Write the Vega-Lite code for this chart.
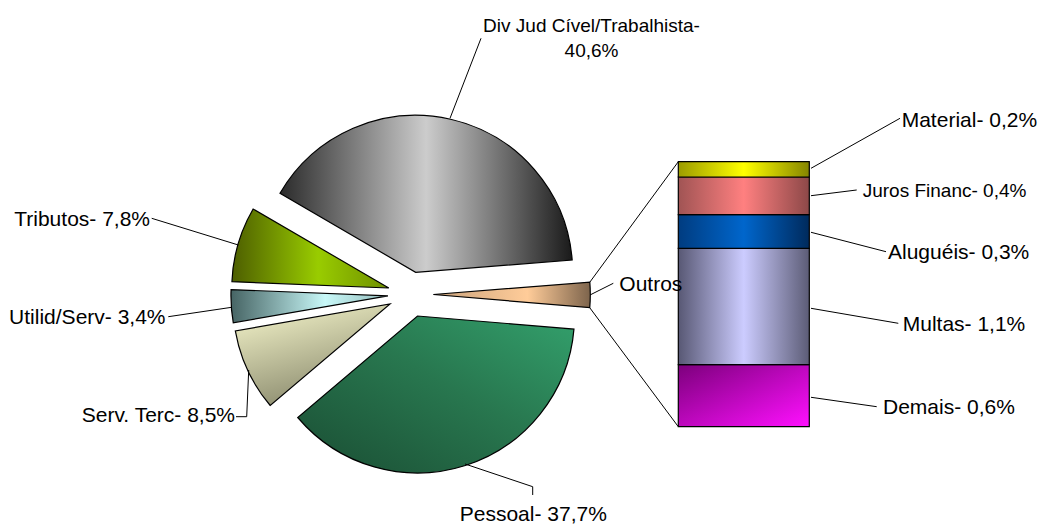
{
  "$schema": "https://vega.github.io/schema/vega-lite/v6.json",
  "width": 1039,
  "height": 524,
  "autosize": {"type": "none"},
  "padding": 0,
  "background": "white",
  "config": {"view": {"stroke": null}, "axis": {"disable": true}, "text": {"font": "Liberation Sans"}},
  "datasets": {
    "despesas": [
      {"cat": "Outros", "ord": 1, "value": 2.6, "label": "Outros"},
      {"cat": "Pessoal", "ord": 2, "value": 37.7, "label": "Pessoal- 37,7%"},
      {"cat": "Serv. Terc", "ord": 3, "value": 8.5, "label": "Serv. Terc- 8,5%"},
      {"cat": "Utilid/Serv", "ord": 4, "value": 3.4, "label": "Utilid/Serv- 3,4%"},
      {"cat": "Tributos", "ord": 5, "value": 7.8, "label": "Tributos- 7,8%"},
      {"cat": "Div Jud Cível/Trabalhista", "ord": 6, "value": 40.6, "label": "Div Jud Cível/Trabalhista-\n40,6%"}
    ],
    "outros": [
      {"cat": "Demais", "ord": 1, "value": 0.61, "label": "Demais- 0,6%"},
      {"cat": "Multas", "ord": 2, "value": 1.14, "label": "Multas- 1,1%"},
      {"cat": "Aluguéis", "ord": 3, "value": 0.33, "label": "Aluguéis- 0,3%"},
      {"cat": "Juros Financ", "ord": 4, "value": 0.37, "label": "Juros Financ- 0,4%"},
      {"cat": "Material", "ord": 5, "value": 0.15, "label": "Material- 0,2%"}
    ]
  },
  "layer": [
    {
      "data": {"name": "despesas"},
      "transform": [{"stack": "value", "groupby": [], "sort": [{"field": "ord", "order": "ascending"}], "as": ["s0", "s1"]}],
      "layer": [
        {
          "transform": [{"filter": "datum.ord===1"}],
          "mark": {"type": "arc", "radius": 157, "stroke": "#000", "strokeWidth": 1.2, "xOffset": 22.7, "yOffset": 0.1,
            "fill": {"gradient": "linear", "x1": 0, "y1": 0, "x2": 1, "y2": 0, "stops": [{"offset": 0, "color": "#c9a27c"}, {"offset": 0.6, "color": "#ffcc99"}, {"offset": 1, "color": "#7d644c"}]}},
          "encoding": {
            "theta": {"field": "s0", "type": "quantitative", "scale": {"domain": [0, 100.6], "range": [1.49226, 7.77545]}},
            "theta2": {"field": "s1"},
            "x": {"datum": -2.0435, "type": "quantitative", "scale": {"domain": [-5.1779, 2.7534], "nice": false, "zero": false}, "axis": null},
            "y": {"datum": 1.2981, "type": "quantitative", "scale": {"domain": [-0.9547, 4.1866], "nice": false, "zero": false}, "axis": null}
          }
        },
        {
          "transform": [{"filter": "datum.ord===2"}],
          "mark": {"type": "arc", "radius": 157, "stroke": "#000", "strokeWidth": 1.2, "xOffset": 6.9, "yOffset": 21.6,
            "fill": {"gradient": "linear", "x1": 0, "y1": 1, "x2": 1, "y2": 0, "stops": [{"offset": 0, "color": "#1a4d33"}, {"offset": 0.55, "color": "#28774f"}, {"offset": 1, "color": "#33a06c"}]}},
          "encoding": {
            "theta": {"field": "s0", "type": "quantitative"},
            "theta2": {"field": "s1"},
            "x": {"datum": -2.0435, "type": "quantitative", "axis": null},
            "y": {"datum": 1.2981, "type": "quantitative", "axis": null}
          }
        },
        {
          "transform": [{"filter": "datum.ord===3"}],
          "mark": {"type": "arc", "radius": 157, "stroke": "#000", "strokeWidth": 1.2, "xOffset": -20.6, "yOffset": 9.6,
            "fill": {"gradient": "linear", "x1": 0.2, "y1": 0, "x2": 0.6, "y2": 1, "stops": [{"offset": 0, "color": "#f2f2c8"}, {"offset": 1, "color": "#86866a"}]}},
          "encoding": {
            "theta": {"field": "s0", "type": "quantitative"},
            "theta2": {"field": "s1"},
            "x": {"datum": -2.0435, "type": "quantitative", "axis": null},
            "y": {"datum": 1.2981, "type": "quantitative", "axis": null}
          }
        },
        {
          "transform": [{"filter": "datum.ord===4"}],
          "mark": {"type": "arc", "radius": 157, "stroke": "#000", "strokeWidth": 1.2, "xOffset": -22.65, "yOffset": 1.5,
            "fill": {"gradient": "linear", "x1": 0, "y1": 0, "x2": 1, "y2": 0, "stops": [{"offset": 0, "color": "#466464"}, {"offset": 0.6, "color": "#c8f8f8"}, {"offset": 1, "color": "#94bcbc"}]}},
          "encoding": {
            "theta": {"field": "s0", "type": "quantitative"},
            "theta2": {"field": "s1"},
            "x": {"datum": -2.0435, "type": "quantitative", "axis": null},
            "y": {"datum": 1.2981, "type": "quantitative", "axis": null}
          }
        },
        {
          "transform": [{"filter": "datum.ord===5"}],
          "mark": {"type": "arc", "radius": 157, "stroke": "#000", "strokeWidth": 1.2, "xOffset": -21.8, "yOffset": -6.4,
            "fill": {"gradient": "linear", "x1": 0, "y1": 0, "x2": 1, "y2": 0, "stops": [{"offset": 0, "color": "#4d5e00"}, {"offset": 0.55, "color": "#99cc00"}, {"offset": 1, "color": "#6f8f00"}]}},
          "encoding": {
            "theta": {"field": "s0", "type": "quantitative"},
            "theta2": {"field": "s1"},
            "x": {"datum": -2.0435, "type": "quantitative", "axis": null},
            "y": {"datum": 1.2981, "type": "quantitative", "axis": null}
          }
        },
        {
          "transform": [{"filter": "datum.ord===6"}],
          "mark": {"type": "arc", "radius": 157, "stroke": "#000", "strokeWidth": 1.2, "xOffset": 5.05, "yOffset": -22.1,
            "fill": {"gradient": "linear", "x1": 0, "y1": 0, "x2": 1, "y2": 0, "stops": [{"offset": 0, "color": "#2b2b2b"}, {"offset": 0.5, "color": "#cccccc"}, {"offset": 1, "color": "#1a1a1a"}]}},
          "encoding": {
            "theta": {"field": "s0", "type": "quantitative"},
            "theta2": {"field": "s1"},
            "x": {"datum": -2.0435, "type": "quantitative", "axis": null},
            "y": {"datum": 1.2981, "type": "quantitative", "axis": null}
          }
        }
      ]
    },
    {
      "data": {"name": "outros"},
      "transform": [{"stack": "value", "groupby": [], "sort": [{"field": "ord", "order": "ascending"}], "as": ["s0", "s1"]}],
      "layer": [
        {
          "transform": [{"filter": "datum.ord===1"}],
          "mark": {"type": "rect", "stroke": "#000", "strokeWidth": 1.2,
            "fill": {"gradient": "linear", "x1": 0, "y1": 0, "x2": 1, "y2": 1, "stops": [{"offset": 0, "color": "#7c007c"}, {"offset": 1, "color": "#ff10ff"}]}},
          "encoding": {"x": {"datum": 0, "type": "quantitative", "axis": null}, "x2": {"datum": 1}, "y": {"field": "s0", "type": "quantitative", "axis": null}, "y2": {"field": "s1"}}
        },
        {
          "transform": [{"filter": "datum.ord===2"}],
          "mark": {"type": "rect", "stroke": "#000", "strokeWidth": 1.2,
            "fill": {"gradient": "linear", "x1": 0, "y1": 0, "x2": 1, "y2": 0, "stops": [{"offset": 0, "color": "#585874"}, {"offset": 0.5, "color": "#ccccff"}, {"offset": 1, "color": "#5c5c76"}]}},
          "encoding": {"x": {"datum": 0, "type": "quantitative", "axis": null}, "x2": {"datum": 1}, "y": {"field": "s0", "type": "quantitative", "axis": null}, "y2": {"field": "s1"}}
        },
        {
          "transform": [{"filter": "datum.ord===3"}],
          "mark": {"type": "rect", "stroke": "#000", "strokeWidth": 1.2,
            "fill": {"gradient": "linear", "x1": 0, "y1": 0, "x2": 1, "y2": 0, "stops": [{"offset": 0, "color": "#003c80"}, {"offset": 0.5, "color": "#0066cc"}, {"offset": 1, "color": "#002a5c"}]}},
          "encoding": {"x": {"datum": 0, "type": "quantitative", "axis": null}, "x2": {"datum": 1}, "y": {"field": "s0", "type": "quantitative", "axis": null}, "y2": {"field": "s1"}}
        },
        {
          "transform": [{"filter": "datum.ord===4"}],
          "mark": {"type": "rect", "stroke": "#000", "strokeWidth": 1.2,
            "fill": {"gradient": "linear", "x1": 0, "y1": 0, "x2": 1, "y2": 0, "stops": [{"offset": 0, "color": "#a05454"}, {"offset": 0.5, "color": "#ff8080"}, {"offset": 1, "color": "#8c4848"}]}},
          "encoding": {"x": {"datum": 0, "type": "quantitative", "axis": null}, "x2": {"datum": 1}, "y": {"field": "s0", "type": "quantitative", "axis": null}, "y2": {"field": "s1"}}
        },
        {
          "transform": [{"filter": "datum.ord===5"}],
          "mark": {"type": "rect", "stroke": "#000", "strokeWidth": 1.2,
            "fill": {"gradient": "linear", "x1": 0, "y1": 0, "x2": 1, "y2": 0, "stops": [{"offset": 0, "color": "#9c9c00"}, {"offset": 0.5, "color": "#ffff00"}, {"offset": 1, "color": "#858500"}]}},
          "encoding": {"x": {"datum": 0, "type": "quantitative", "axis": null}, "x2": {"datum": 1}, "y": {"field": "s0", "type": "quantitative", "axis": null}, "y2": {"field": "s1"}}
        }
      ]
    },
    {
      "data": {"name": "despesas"},
      "transform": [{"filter": "datum.ord===1"}],
      "layer": [
        {"mark": {"type": "rule", "color": "#000", "strokeWidth": 1},
         "encoding": {"x": {"datum": -0.6756, "type": "quantitative", "axis": null}, "y": {"datum": 1.4178, "type": "quantitative", "axis": null}, "x2": {"datum": 0}, "y2": {"datum": 2.6}}},
        {"mark": {"type": "rule", "color": "#000", "strokeWidth": 1},
         "encoding": {"x": {"datum": -0.6756, "type": "quantitative", "axis": null}, "y": {"datum": 1.1666, "type": "quantitative", "axis": null}, "x2": {"datum": 0}, "y2": {"datum": 0}}},
        {"mark": {"type": "rule", "color": "#000", "strokeWidth": 1},
         "encoding": {"x": {"datum": -0.6740, "type": "quantitative", "axis": null}, "y": {"datum": 1.2922, "type": "quantitative", "axis": null}, "x2": {"datum": -0.4962}, "y2": {"datum": 1.4070}}},
        {"mark": {"type": "text", "align": "left", "baseline": "alphabetic", "fontSize": 21, "font": "Liberation Sans", "color": "#000"},
         "encoding": {"text": {"field": "label"}, "x": {"datum": -0.4504, "type": "quantitative", "axis": null}, "y": {"datum": 1.3344, "type": "quantitative", "axis": null}}}
      ]
    },
    {
      "data": {"name": "despesas"},
      "transform": [{"filter": "datum.ord===2"}],
      "layer": [
        {"mark": {"type": "rule", "color": "#000", "strokeWidth": 1},
         "encoding": {"x": {"datum": -1.1115, "type": "quantitative", "axis": null}, "y": {"datum": -0.6701, "type": "quantitative", "axis": null}, "x2": {"datum": -1.1115}, "y2": {"datum": -0.5887}}},
        {"mark": {"type": "rule", "color": "#000", "strokeWidth": 1},
         "encoding": {"x": {"datum": -1.1115, "type": "quantitative", "axis": null}, "y": {"datum": -0.5887, "type": "quantitative", "axis": null}, "x2": {"datum": -1.6282}, "y2": {"datum": -0.3660}}},
        {"mark": {"type": "text", "align": "center", "baseline": "alphabetic", "fontSize": 21, "font": "Liberation Sans", "color": "#000"},
         "encoding": {"text": {"field": "label"}, "x": {"datum": -1.1069, "type": "quantitative", "axis": null}, "y": {"datum": -0.9301, "type": "quantitative", "axis": null}}}
      ]
    },
    {
      "data": {"name": "despesas"},
      "transform": [{"filter": "datum.ord===3"}],
      "layer": [
        {"mark": {"type": "rule", "color": "#000", "strokeWidth": 1},
         "encoding": {"x": {"datum": -3.3763, "type": "quantitative", "axis": null}, "y": {"datum": 0.0981, "type": "quantitative", "axis": null}, "x2": {"datum": -3.2947}, "y2": {"datum": 0.0981}}},
        {"mark": {"type": "rule", "color": "#000", "strokeWidth": 1},
         "encoding": {"x": {"datum": -3.2947, "type": "quantitative", "axis": null}, "y": {"datum": 0.0981, "type": "quantitative", "axis": null}, "x2": {"datum": -3.2794}, "y2": {"datum": 0.5563}}},
        {"mark": {"type": "text", "align": "right", "baseline": "alphabetic", "fontSize": 21, "font": "Liberation Sans", "color": "#000"},
         "encoding": {"text": {"field": "label"}, "x": {"datum": -3.3840, "type": "quantitative", "axis": null}, "y": {"datum": 0.0432, "type": "quantitative", "axis": null}}}
      ]
    },
    {
      "data": {"name": "despesas"},
      "transform": [{"filter": "datum.ord===4"}],
      "layer": [
        {"mark": {"type": "rule", "color": "#000", "strokeWidth": 1},
         "encoding": {"x": {"datum": -3.8931, "type": "quantitative", "axis": null}, "y": {"datum": 1.0793, "type": "quantitative", "axis": null}, "x2": {"datum": -3.4092}, "y2": {"datum": 1.1715}}},
        {"mark": {"type": "text", "align": "right", "baseline": "alphabetic", "fontSize": 21, "font": "Liberation Sans", "color": "#000"},
         "encoding": {"text": {"field": "label"}, "x": {"datum": -3.9145, "type": "quantitative", "axis": null}, "y": {"datum": 1.0047, "type": "quantitative", "axis": null}}}
      ]
    },
    {
      "data": {"name": "despesas"},
      "transform": [{"filter": "datum.ord===5"}],
      "layer": [
        {"mark": {"type": "rule", "color": "#000", "strokeWidth": 1},
         "encoding": {"x": {"datum": -4.0198, "type": "quantitative", "axis": null}, "y": {"datum": 2.0447, "type": "quantitative", "axis": null}, "x2": {"datum": -3.3588}, "y2": {"datum": 1.7828}}},
        {"mark": {"type": "text", "align": "right", "baseline": "alphabetic", "fontSize": 21, "font": "Liberation Sans", "color": "#000"},
         "encoding": {"text": {"field": "label"}, "x": {"datum": -4.0328, "type": "quantitative", "axis": null}, "y": {"datum": 1.9692, "type": "quantitative", "axis": null}}}
      ]
    },
    {
      "data": {"name": "despesas"},
      "transform": [{"filter": "datum.ord===6"}],
      "layer": [
        {"mark": {"type": "rule", "color": "#000", "strokeWidth": 1},
         "encoding": {"x": {"datum": -1.7427, "type": "quantitative", "axis": null}, "y": {"datum": 3.0259, "type": "quantitative", "axis": null}, "x2": {"datum": -1.5061}, "y2": {"datum": 3.8108}}},
        {"mark": {"type": "text", "align": "center", "baseline": "alphabetic", "fontSize": 19, "lineHeight": 25, "lineBreak": "\n", "font": "Liberation Sans", "color": "#000"},
         "encoding": {"text": {"field": "label"}, "x": {"datum": -0.6626, "type": "quantitative", "axis": null}, "y": {"datum": 3.8756, "type": "quantitative", "axis": null}}}
      ]
    },
    {
      "data": {"name": "outros"},
      "transform": [{"filter": "datum.ord===5"}],
      "layer": [
        {"mark": {"type": "rule", "color": "#000", "strokeWidth": 1},
         "encoding": {"x": {"datum": 1.0130, "type": "quantitative", "axis": null}, "y": {"datum": 2.5353, "type": "quantitative", "axis": null}, "x2": {"datum": 1.6924}, "y2": {"datum": 3.0259}}},
        {"mark": {"type": "text", "align": "left", "baseline": "alphabetic", "fontSize": 21, "font": "Liberation Sans", "color": "#000"},
         "encoding": {"text": {"field": "label"}, "x": {"datum": 1.7053, "type": "quantitative", "axis": null}, "y": {"datum": 2.9435, "type": "quantitative", "axis": null}}}
      ]
    },
    {
      "data": {"name": "outros"},
      "transform": [{"filter": "datum.ord===4"}],
      "layer": [
        {"mark": {"type": "rule", "color": "#000", "strokeWidth": 1},
         "encoding": {"x": {"datum": 1.0130, "type": "quantitative", "axis": null}, "y": {"datum": 2.2665, "type": "quantitative", "axis": null}, "x2": {"datum": 1.3618}, "y2": {"datum": 2.3224}}},
        {"mark": {"type": "text", "align": "left", "baseline": "alphabetic", "fontSize": 19, "font": "Liberation Sans", "color": "#000"},
         "encoding": {"text": {"field": "label"}, "x": {"datum": 1.4076, "type": "quantitative", "axis": null}, "y": {"datum": 2.2567, "type": "quantitative", "axis": null}}}
      ]
    },
    {
      "data": {"name": "outros"},
      "transform": [{"filter": "datum.ord===3"}],
      "layer": [
        {"mark": {"type": "rule", "color": "#000", "strokeWidth": 1},
         "encoding": {"x": {"datum": 1.0130, "type": "quantitative", "axis": null}, "y": {"datum": 1.9074, "type": "quantitative", "axis": null}, "x2": {"datum": 1.5855}, "y2": {"datum": 1.7170}}},
        {"mark": {"type": "text", "align": "left", "baseline": "alphabetic", "fontSize": 21, "font": "Liberation Sans", "color": "#000"},
         "encoding": {"text": {"field": "label"}, "x": {"datum": 1.6008, "type": "quantitative", "axis": null}, "y": {"datum": 1.6425, "type": "quantitative", "axis": null}}}
      ]
    },
    {
      "data": {"name": "outros"},
      "transform": [{"filter": "datum.ord===2"}],
      "layer": [
        {"mark": {"type": "rule", "color": "#000", "strokeWidth": 1},
         "encoding": {"x": {"datum": 1.0130, "type": "quantitative", "axis": null}, "y": {"datum": 1.1617, "type": "quantitative", "axis": null}, "x2": {"datum": 1.6794}, "y2": {"datum": 1.0145}}},
        {"mark": {"type": "text", "align": "left", "baseline": "alphabetic", "fontSize": 21, "font": "Liberation Sans", "color": "#000"},
         "encoding": {"text": {"field": "label"}, "x": {"datum": 1.7130, "type": "quantitative", "axis": null}, "y": {"datum": 0.9419, "type": "quantitative", "axis": null}}}
      ]
    },
    {
      "data": {"name": "outros"},
      "transform": [{"filter": "datum.ord===1"}],
      "layer": [
        {"mark": {"type": "rule", "color": "#000", "strokeWidth": 1},
         "encoding": {"x": {"datum": 1.0130, "type": "quantitative", "axis": null}, "y": {"datum": 0.2885, "type": "quantitative", "axis": null}, "x2": {"datum": 1.5145}, "y2": {"datum": 0.1962}}},
        {"mark": {"type": "text", "align": "left", "baseline": "alphabetic", "fontSize": 21, "font": "Liberation Sans", "color": "#000"},
         "encoding": {"text": {"field": "label"}, "x": {"datum": 1.5626, "type": "quantitative", "axis": null}, "y": {"datum": 0.1217, "type": "quantitative", "axis": null}}}
      ]
    }
  ]
}
